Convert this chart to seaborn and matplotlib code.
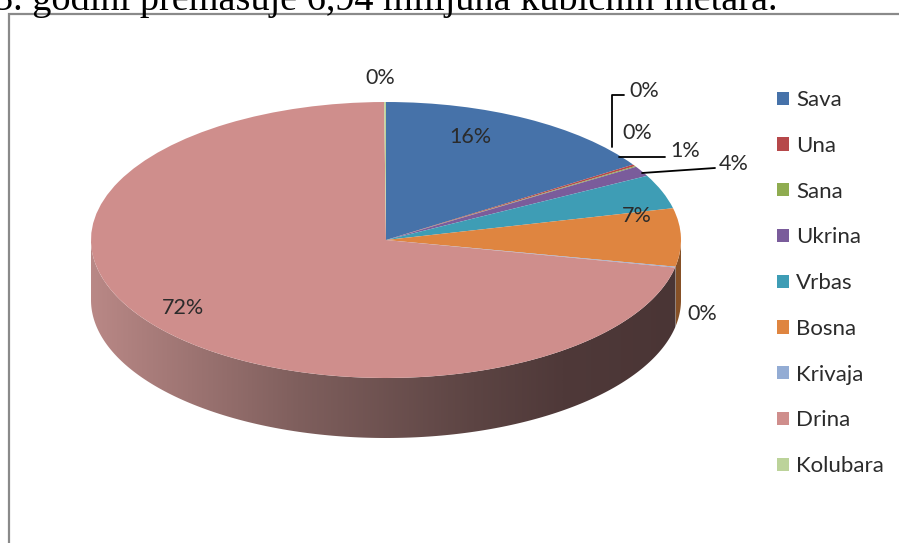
import numpy as np
import matplotlib
matplotlib.use("Agg")
import matplotlib.pyplot as plt
from matplotlib.colors import LinearSegmentedColormap, to_rgb
from matplotlib.patches import Polygon, Rectangle
from matplotlib.lines import Line2D
import seaborn as sns

# share of each river basin (%)
rivers = ['Sava', 'Una', 'Sana', 'Ukrina', 'Vrbas', 'Bosna', 'Krivaja', 'Drina', 'Kolubara']
shares = [15.8, 0.2, 0.1, 1.2, 4.0, 6.8, 0.1, 71.7, 0.1]
palette = ['#4672a9', '#b6484a', '#8fac50', '#7a5c9b', '#3e9db5',
           '#df8540', '#93acd4', '#cf8e8c', '#bcd39a']
labels = [f"{round(s)}%" for s in shares]

# layout: where Excel put the data labels (pixels from top-left)
label_xy = [(470, 137), (644, 91), (637, 133), (685, 151), (734, 164),
            (637, 216), (702, 314), (183, 308), (380, 78)]
leaders = [[(612, 147), (612, 95), (624, 95)],
           [(619, 157), (665, 157)],
           [(642, 173), (715, 168)]]

sns.set_style("white")
plt.rcParams['font.family'] = ['Lato', 'DejaVu Sans']

W, H = 899, 543
fig = plt.figure(figsize=(W / 100, H / 100), dpi=100)
ax = fig.add_axes([0, 0, 1, 1])

# fake 3d: squash the pie vertically and hang a wall under it
R, cx, cy_px, depth = 295, 386, 240, 60
k = 138 / R
center = (cx, (H - cy_px) / k)
dep = depth / k

wedges, _ = ax.pie(shares, colors=palette, startangle=90, counterclock=False,
                   center=center, radius=R, frame=True,
                   wedgeprops=dict(linewidth=0))
for w in wedges:
    w.set_zorder(3)

side_cmap = LinearSegmentedColormap.from_list(
    'side', [(0, '#b98886'), (0.35, '#7f5f5d'), (0.65, '#5c4443'),
             (0.8, '#4f3939'), (1, '#4a3535')])

for w, col, name in zip(wedges, palette, rivers):
    a, b = max(w.theta1, -180), min(w.theta2, 0)
    if a >= b:
        continue
    t = np.radians(np.linspace(a, b, 200))
    xs = center[0] + R * np.cos(t)
    ys = center[1] + R * np.sin(t)
    verts = np.vstack([np.c_[xs, ys], np.c_[xs[::-1], ys[::-1] - dep]])
    if name == 'Drina':
        poly = Polygon(verts, closed=True, facecolor='none', edgecolor='none',
                       transform=ax.transData)
        ax.add_patch(poly)
        grad = np.linspace(0, 1, 512).reshape(1, -1)
        im = ax.imshow(grad, cmap=side_cmap, aspect='auto', zorder=1,
                       extent=(cx - R, cx + R, center[1] - R - dep, center[1]))
        im.set_clip_path(poly)
    else:
        dark = tuple(c * 0.6 for c in to_rgb(col))
        ax.add_patch(Polygon(verts, closed=True, facecolor=dark,
                             edgecolor='none', zorder=2))

ax.set_aspect('auto')
ax.set_xlim(0, W)
ax.set_ylim(0, H / k)
ax.axis('off')

for (x, y), txt in zip(label_xy, labels):
    fig.text(x / W, 1 - y / H, txt, ha='center', va='center',
             fontsize=15.5, color='#2b2b2b')

for pts in leaders:
    px, py = zip(*pts)
    fig.add_artist(Line2D(np.array(px) / W, 1 - np.array(py) / H,
                          transform=fig.transFigure, color='black', lw=1.3))

ax.legend(wedges, rivers, loc='upper left', frameon=False,
          bbox_to_anchor=(777 / W, 1 - 90 / H), bbox_transform=fig.transFigure,
          fontsize=16, handlelength=0.54, handleheight=0.54,
          handletextpad=0.33, labelspacing=1.16, borderpad=0,
          borderaxespad=0, labelcolor='#2b2b2b')

# chart frame and the cut-off sentence above it
fig.add_artist(Rectangle((8.5 / W, -0.1), 1.2, 1.1 - 13.5 / H,
                         transform=fig.transFigure, fill=False,
                         edgecolor='#8a8a8a', lw=1.6))
fig.text(-6 / W, 1 - 10 / H, "3. godini premašuje 6,94 milijuna kubičnih metara.",
         family='Liberation Serif', fontsize=27.5, ha='left', va='baseline',
         color='black')

fig.savefig('out.png', dpi=100)
